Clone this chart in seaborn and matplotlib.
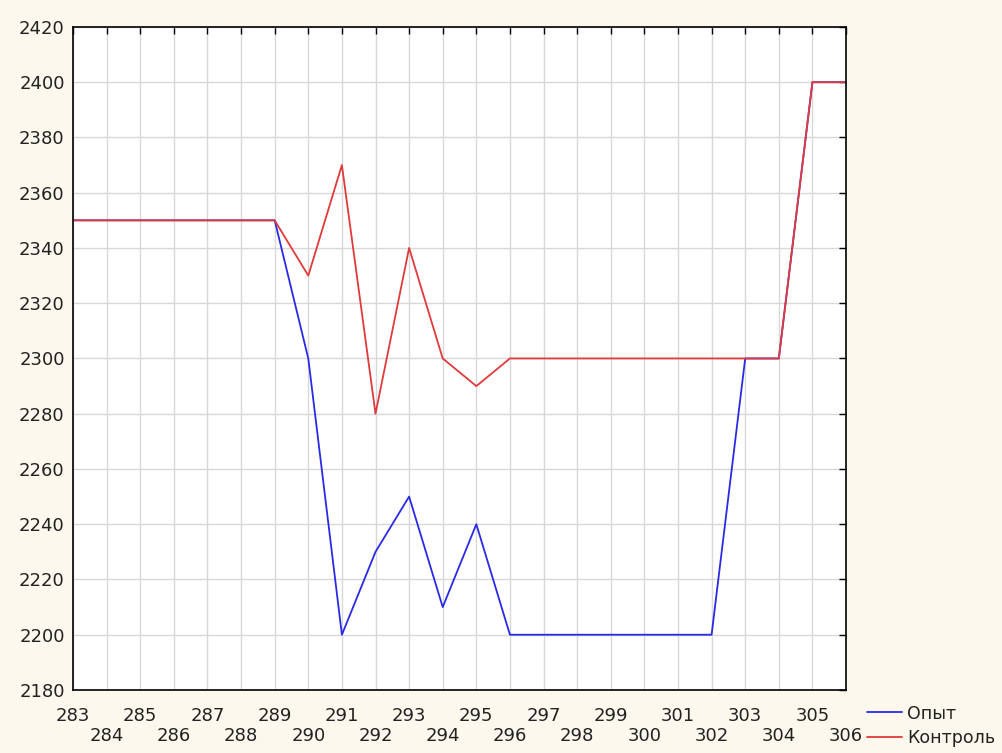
import pandas as pd
import numpy as np
import matplotlib
matplotlib.use('Agg')
import matplotlib.pyplot as plt
import seaborn as sns

days = list(range(283, 307))
opyt = [2350, 2350, 2350, 2350, 2350, 2350, 2350, 2300, 2200, 2230, 2250, 2210,
        2240, 2200, 2200, 2200, 2200, 2200, 2200, 2200, 2300, 2300, 2400, 2400]
kontrol = [2350, 2350, 2350, 2350, 2350, 2350, 2350, 2330, 2370, 2280, 2340, 2300,
           2290, 2300, 2300, 2300, 2300, 2300, 2300, 2300, 2300, 2300, 2400, 2400]
series_names = ['Опыт', 'Контроль']

df = pd.DataFrame({
    'x': days * 2,
    'y': opyt + kontrol,
    'series': [series_names[0]] * len(days) + [series_names[1]] * len(days),
})

sns.set_style('white')
plt.rcParams['font.family'] = ['DejaVu Sans']

bg = '#fcf8ee'
fs = 13
fig = plt.figure(figsize=(10.03, 7.53), dpi=100, facecolor=bg)
ax = fig.add_axes([0.0728, 0.0837, 0.7707, 0.8805])
ax.set_facecolor('white')

sns.lineplot(data=df, x='x', y='y', hue='series', palette=['#2a2ae6', '#e03a3a'],
             linewidth=1.3, ax=ax, legend=True)

ax.set_xlim(283, 306)
ax.set_ylim(2180, 2420)
ax.set_xticks(days)
ax.set_xticklabels([str(d) if (d - 283) % 2 == 0 else '\n' + str(d) for d in days],
                   fontsize=fs, color='#222222', linespacing=1.2)
ax.set_yticks(np.arange(2180, 2421, 20))
ax.set_yticklabels([str(v) for v in np.arange(2180, 2421, 20)], fontsize=fs, color='#222222')
ax.tick_params(axis='both', direction='in', length=5, width=1, color='black',
               top=True, right=True)
ax.tick_params(axis='x', pad=12)
ax.tick_params(axis='y', pad=6)
ax.grid(True, color='#d8d8d8', linewidth=1)
for s in ax.spines.values():
    s.set_color('black')
    s.set_linewidth(1.2)
ax.set_xlabel('')
ax.set_ylabel('')

# легенда справа снизу, за пределами осей
leg = ax.legend(loc='upper left', bbox_to_anchor=(1.027, -0.022), frameon=False,
                fontsize=12.5, handlelength=2.0, handletextpad=0.3, labelspacing=0.35,
                borderpad=0, borderaxespad=0)
for t in leg.get_texts():
    t.set_color('#222222')

fig.savefig('out.png', dpi=100, facecolor=bg)
